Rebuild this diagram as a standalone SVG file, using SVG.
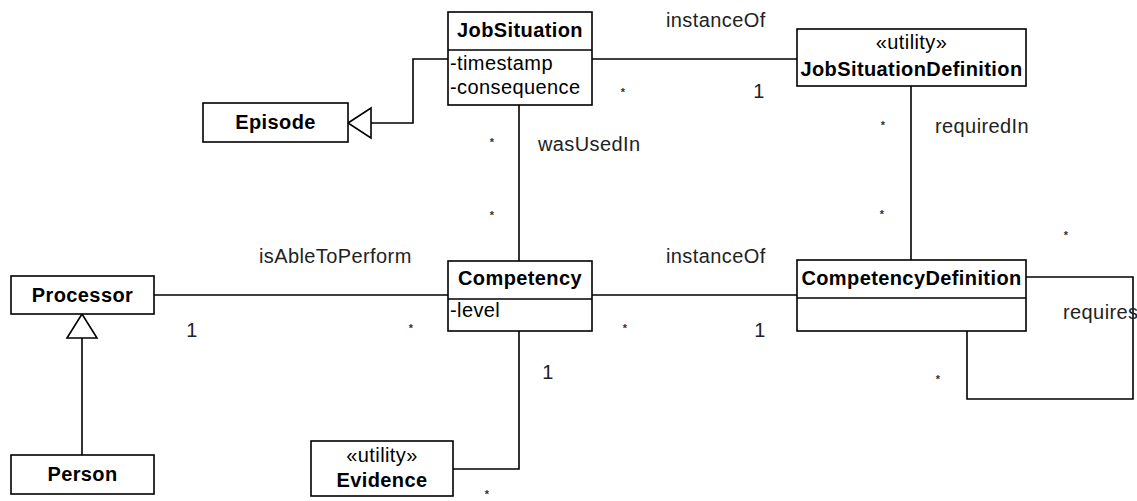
<svg xmlns="http://www.w3.org/2000/svg" width="1137" height="501" viewBox="0 0 1137 501">
<style>
rect.box{fill:#fff;stroke:#000;stroke-width:1.6}
line.div{stroke:#000;stroke-width:1.6}
.conn path,.conn line{fill:none;stroke:#000;stroke-width:1.6}
.conn polygon{fill:#fff;stroke:#000;stroke-width:1.6}
text{font-family:"Liberation Sans",Arial,Helvetica,sans-serif;font-size:20px;letter-spacing:0.4px;fill:#000}
text.b{font-weight:bold;text-anchor:middle}
text.m{text-anchor:middle}
text.lbl{fill:#222}
text.star{font-size:11px;font-weight:bold;text-anchor:middle;fill:#333;letter-spacing:0}
</style>
<rect width="1137" height="501" fill="#fff"/>
<g id="connectors" class="conn">
<path d="M448,59 H413 V123 H371"/>
<polygon points="348,123 371,108 371,138"/>
<line x1="82" y1="455" x2="82" y2="338"/>
<polygon points="82,314 67,338 97,338"/>
<line x1="592" y1="59" x2="797" y2="59"/>
<line x1="519" y1="105" x2="519" y2="261"/>
<line x1="911" y1="86" x2="911" y2="260"/>
<line x1="154" y1="295" x2="448" y2="295"/>
<line x1="592" y1="295" x2="797" y2="295"/>
<path d="M519,331 V469 H453"/>
<path d="M1026,277 H1133 V399 H967 V331"/>
</g>
<g id="labels">
<text class="lbl" x="666" y="27">instanceOf</text>
<text class="star" x="623" y="96">*</text>
<text class="lbl m" x="759" y="98">1</text>
<text class="star" x="492" y="146">*</text>
<text class="lbl" x="538" y="151">wasUsedIn</text>
<text class="star" x="883" y="129">*</text>
<text class="lbl" x="935" y="133">requiredIn</text>
<text class="star" x="492" y="219">*</text>
<text class="star" x="882" y="218">*</text>
<text class="star" x="1066" y="239">*</text>
<text class="lbl" x="259" y="263">isAbleToPerform</text>
<text class="lbl" x="666" y="263">instanceOf</text>
<text class="lbl m" x="192" y="337">1</text>
<text class="star" x="411" y="332">*</text>
<text class="star" x="625" y="332">*</text>
<text class="lbl m" x="760" y="337">1</text>
<text class="lbl" x="1063" y="319">requires</text>
<text class="lbl m" x="548" y="379">1</text>
<text class="star" x="938" y="383">*</text>
<text class="star" x="487" y="498">*</text>
</g>
<g id="JobSituation">
<rect class="box" x="448" y="12" width="144" height="93"/>
<line class="div" x1="448" y1="50" x2="592" y2="50"/>
<text class="b" x="520" y="37">JobSituation</text>
<text x="450" y="70">-timestamp</text>
<text x="450" y="94">-consequence</text>
</g>
<g id="Episode">
<rect class="box" x="203" y="103" width="145" height="39"/>
<text class="b" x="275.5" y="129">Episode</text>
</g>
<g id="JobSituationDefinition">
<rect class="box" x="797" y="29" width="229" height="57"/>
<text class="m" x="911.5" y="49">«utility»</text>
<text class="b" x="911.5" y="76">JobSituationDefinition</text>
</g>
<g id="Processor">
<rect class="box" x="11" y="276" width="143" height="38"/>
<text class="b" x="82.5" y="302">Processor</text>
</g>
<g id="Person">
<rect class="box" x="11" y="455" width="143" height="39"/>
<text class="b" x="82.5" y="481">Person</text>
</g>
<g id="Competency">
<rect class="box" x="448" y="261" width="144" height="70"/>
<line class="div" x1="448" y1="299" x2="592" y2="299"/>
<text class="b" x="520" y="285">Competency</text>
<text x="450" y="317">-level</text>
</g>
<g id="CompetencyDefinition">
<rect class="box" x="797" y="260" width="229" height="71"/>
<line class="div" x1="797" y1="298" x2="1026" y2="298"/>
<text class="b" x="911.5" y="285">CompetencyDefinition</text>
</g>
<g id="Evidence">
<rect class="box" x="311" y="441" width="142" height="55"/>
<text class="m" x="382" y="462">«utility»</text>
<text class="b" x="382" y="487">Evidence</text>
</g>
</svg>
